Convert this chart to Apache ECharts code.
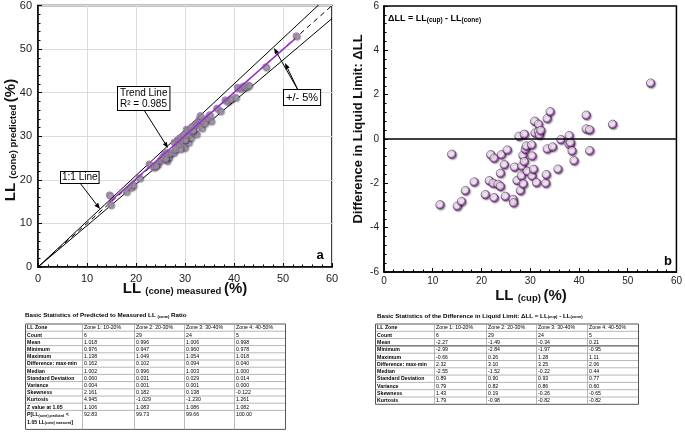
<!DOCTYPE html>
<html><head><meta charset="utf-8">
<script src="https://cdn.jsdelivr.net/npm/echarts@6/dist/echarts.min.js"></script>
<style>html,body{margin:0;padding:0;background:#fff}#c{width:685px;height:432px}</style>
</head><body><div id="c"></div><script>
// ---------- data ----------
const measuredLL = [14.6,14.8,18.0,19.0,19.4,20.7,22.7,23.6,24.4,25.0,25.4,25.8,26.1,26.3,26.5,26.7,27.0,27.7,27.8,28.4,28.7,28.9,29.4,29.6,29.7,29.9,30.1,30.3,30.5,30.7,31.0,31.2,31.4,31.8,32.1,32.3,32.6,32.9,33.1,33.4,33.8,34.5,35.0,35.3,36.5,37.2,38.2,38.7,39.3,40.3,40.7,41.3,41.9,42.5,43.0,46.5,52.7,24.0,26.0,28.0,30.0,31.6,34.0,29.0];
const predictedLL = [16.5,14.3,17.3,18.3,18.8,20.4,23.6,22.9,23.6,24.5,25.2,25.8,26.3,24.4,25.8,25.2,26.1,26.3,28.6,29.1,28.2,29.6,29.0,30.1,28.0,27.4,29.4,31.6,30.5,28.6,31.3,29.7,32.2,30.9,32.6,30.5,33.2,33.9,34.7,31.9,33.5,34.1,34.9,33.5,36.4,35.8,38.3,38.0,38.5,38.9,41.2,41.0,41.5,41.3,41.7,45.9,53.0,23.2,24.9,27.0,29.2,31.4,33.0,27.1];
const trendLine = [[14.5,14.8],[52.5,52.4]];
const oneToOneLine = [[0,0],[60,60]];
const plus5Line = [[0,0],[60,63]];
const minus5Line = [[0,0],[60,57]];

const cupLL = [11.5,13.9,15.05,15.9,16.7,18.5,20.8,21.6,21.9,22.4,22.6,22.6,23.4,23.9,23.9,24.1,24.7,24.9,25.3,26.8,26.5,26.6,27.3,27.7,28.0,28.2,28.3,28.5,28.6,28.8,28.8,29.0,29.2,29.4,30.3,30.4,30.4,30.7,30.9,31.0,31.3,31.7,31.7,31.9,32.2,33.2,33.3,33.5,33.5,34.1,34.6,35.7,36.3,38.0,38.0,38.3,38.6,39.0,41.5,41.5,42.2,42.2,46.9,54.7];
const deltaLL = [-2.97,-0.69,-3.03,-2.82,-2.33,-1.94,-2.51,-1.88,-0.71,-2.0,-0.87,-2.65,-2.05,-2.14,-1.55,-0.71,-1.16,-2.59,-0.5,-1.27,-2.73,-2.88,-1.87,0.12,-2.33,-1.67,-1.22,-0.74,-2.03,0.21,-1.02,-0.47,-0.32,-1.46,-0.27,-0.77,-1.67,-1.37,0.80,0.27,-1.97,0.66,0.33,0.18,0.38,-2.0,-1.61,-0.45,0.92,1.23,-0.36,-1.36,-0.03,0.15,-0.24,-0.17,-0.54,-0.98,1.07,0.45,0.41,-0.53,0.66,2.52];

const axisA = {min:0, max:60, interval:10};
const axisBX = {min:0, max:60, interval:10};
const axisBY = {min:-6, max:6, interval:2};

const statZones = ['Zone 1: 10-20%','Zone 2: 20-30%','Zone 3: 30-40%','Zone 4: 40-50%'];
const ratioRowLabels = ['Count','Mean','Minimum','Maximum','Difference: max-min','Median','Standard Deviation','Variance','Skewness','Kurtosis','Z value at 1.05','{b|P[LL}{s|(cone) predicted}{b| <}\n{b|1.05 LL}{s|(cone) measured}{b|]}'];
const ratioValues = [
 ['6','29','24','5'],
 ['1.018','0.996','1.006','0.998'],
 ['0.976','0.947','0.960','0.978'],
 ['1.138','1.049','1.054','1.018'],
 ['0.162','0.102','0.094','0.040'],
 ['1.002','0.996','1.003','1.000'],
 ['0.060','0.031','0.029','0.014'],
 ['0.004','0.001','0.001','0.000'],
 ['2.161','0.182','0.138','-0.122'],
 ['4.945','-1.029','-1.230','1.261'],
 ['1.106','1.083','1.086','1.082'],
 ['92.83','99.73','99.66','100.00']];
const diffRowLabels = ['Count','Mean','Minimum','Maximum','Difference: max-min','Median','Standard Deviation','Variance','Skewness','Kurtosis'];
const diffValues = [
 ['6','29','24','5'],
 ['-2.27','-1.49','-0.34','0.21'],
 ['-2.99','-2.84','-1.97','-0.95'],
 ['-0.66','0.26','1.28','1.11'],
 ['2.32','3.10','3.25','2.06'],
 ['-2.55','-1.52','-0.22','0.44'],
 ['0.89','0.90','0.93','0.77'],
 ['0.79','0.82','0.86','0.60'],
 ['1.43','0.19','-0.26','-0.65'],
 ['1.79','-0.98','-0.82','-0.82']];

// ---------- helpers ----------
const FF = 'Liberation Sans, Arial, Helvetica, sans-serif';
function arrow(x1,y1,x2,y2){
  const a = Math.atan2(y2-y1,x2-x1), L=6, W=2.3;
  const bx = x2-L*Math.cos(a), by = y2-L*Math.sin(a);
  const px = -Math.sin(a)*W, py = Math.cos(a)*W;
  return [
    {type:'line', z:50, shape:{x1:x1,y1:y1,x2:bx,y2:by}, style:{stroke:'#000',lineWidth:1}},
    {type:'polygon', z:50, shape:{points:[[x2,y2],[bx+px,by+py],[bx-px,by-py]]}, style:{fill:'#000'}}
  ];
}
function label(x,y,text,fs,opt){
  return Object.assign({type:'text', z:60, x:x, y:y, style:Object.assign({text:text, fontSize:fs, fontFamily:FF, fill:'#000', backgroundColor:'#fff', borderColor:'#000', borderWidth:1, align:'left', verticalAlign:'top'}, opt||{})});
}
function buildTable(x0, y0, cols, rowH, lastH, header, labels, values, thickAfter){
  const els = [];
  const rows = [[header[0]].concat(header.slice(1))];
  labels.forEach((l,i)=>rows.push([l].concat(values[i])));
  const tops = []; let y = y0;
  rows.forEach((r,i)=>{ const h = (i===rows.length-1 && lastH) ? lastH : rowH; tops.push([y,h]); y += h; });
  const yEnd = y;
  const x1 = cols[0], x2 = cols[cols.length-1];
  tops.forEach(([ty],i)=>{
    const thick = (thickAfter!==undefined && i===thickAfter+1);
    els.push({type:'line', shape:{x1:x1,y1:ty,x2:x2,y2:ty}, style:{stroke: i===0?'#555':(thick?'#333':'#999'), lineWidth: i===0||thick?1:0.7}});
  });
  els.push({type:'line', shape:{x1:x1,y1:yEnd,x2:x2,y2:yEnd}, style:{stroke:'#555',lineWidth:1}});
  cols.forEach((cx,j)=>{
    els.push({type:'line', shape:{x1:cx,y1:y0,x2:cx,y2:yEnd}, style:{stroke:(j===0||j===cols.length-1)?'#555':'#999', lineWidth:(j===0||j===cols.length-1)?1:0.7}});
  });
  rows.forEach((r,i)=>{
    const [ty,h] = tops[i];
    r.forEach((cell,j)=>{
      const isRich = cell.indexOf('{b|')===0;
      const st = {text:cell, fontSize:5.2, fontFamily:FF, fill:'#000', fontWeight:(j===0)?'bold':'normal', align:'left', verticalAlign: 'middle'};
      let yy = ty + Math.min(h,rowH)/2 + 0.3;
      if (isRich){
        st.verticalAlign='top'; yy = ty + 0.6;
        st.rich = {b:{fontSize:5.2, fontWeight:'bold', fontFamily:FF, lineHeight:7.6}, s:{fontSize:3.3, fontWeight:'bold', fontFamily:FF, lineHeight:7.6, padding:[2,0,0,0]}};
      }
      els.push({type:'text', x:cols[j]+1.6, y:yy, style:st});
    });
  });
  return els;
}

// ---------- chart ----------
const chart = echarts.init(document.getElementById('c'), null, {renderer:'canvas'});
const axisCommon = {
  type:'value',
  axisLine:{show:true, onZero:false, lineStyle:{color:'#000', width:1.5}},
  axisTick:{show:true, inside:true, length:4, lineStyle:{color:'#000', width:1}},
  minorTick:{show:true, splitNumber:5, length:2.5, lineStyle:{color:'#000', width:1}},
};
const richTitle = (big, small) => ({
  b:{fontSize:big, fontWeight:'bold', fontFamily:FF, fill:'#111'},
  s:{fontSize:small, fontWeight:'bold', fontFamily:FF, fill:'#111', padding:[5,0,0,0]}
});

const graphics = [];
// axis titles
graphics.push({type:'text', z:60, x:185, y:289, style:{text:'{b|LL }{s|(cone) measured }{b|(%)}', rich:richTitle(15,9.5), align:'center', verticalAlign:'middle'}});
graphics.push({type:'text', z:60, x:11, y:140, rotation:Math.PI/2, style:{text:'{b|LL }{s|(cone) predicted }{b|(%)}', rich:richTitle(15,9.5), align:'center', verticalAlign:'middle'}});
graphics.push({type:'text', z:60, x:531, y:296, style:{text:'{b|LL }{s|(cup) }{b|(%)}', rich:richTitle(15,9.5), align:'center', verticalAlign:'middle'}});
graphics.push({type:'text', z:60, x:358, y:129, rotation:Math.PI/2, style:{text:'Difference in Liquid Limit: ΔLL', fontSize:13, fontWeight:'bold', fontFamily:FF, fill:'#111', align:'center', verticalAlign:'middle'}});
graphics.push({type:'text', z:60, x:388, y:19, style:{text:'{b|ΔLL = LL}{s|(cup)}{b| - LL}{s|(cone)}', rich:{b:{fontSize:9, fontWeight:'bold', fontFamily:FF}, s:{fontSize:6.5, fontWeight:'bold', fontFamily:FF, padding:[3,0,0,0]}}, align:'left', verticalAlign:'middle'}});
graphics.push({type:'text', z:60, x:320, y:255, style:{text:'a', fontSize:13, fontWeight:'bold', fontFamily:FF, fill:'#000', align:'center', verticalAlign:'middle'}});
graphics.push({type:'text', z:60, x:668, y:261, style:{text:'b', fontSize:13, fontWeight:'bold', fontFamily:FF, fill:'#000', align:'center', verticalAlign:'middle'}});
// annotation boxes and arrows
graphics.push(label(118,87,'Trend Line\nR² = 0.985',10,{padding:[1,2,0,2], lineHeight:11}));
graphics.push(label(61,172,'1:1 Line',10,{padding:[0,1,0,1], lineHeight:11}));
graphics.push(label(284,90,'+/- 5%',11,{padding:[2,2,1,2], lineHeight:12}));
arrow(144,110,168,148).forEach(e=>graphics.push(e));
arrow(80,183,100,209).forEach(e=>graphics.push(e));
arrow(298,90,274,48).forEach(e=>graphics.push(e));
arrow(298,90,285,63).forEach(e=>graphics.push(e));
// table titles
graphics.push({type:'text', z:60, x:25, y:315.5, style:{text:'{b|Basic Statistics of Predicted to Measured LL }{s|(cone)}{b| Ratio}', rich:{b:{fontSize:6.2, fontWeight:'bold', fontFamily:FF}, s:{fontSize:4, fontWeight:'bold', fontFamily:FF, padding:[2,0,0,0]}}, align:'left', verticalAlign:'middle'}});
graphics.push({type:'text', z:60, x:377, y:316, style:{text:'{b|Basic Statistics of the Difference in Liquid Limit: ΔLL = LL}{s|(cup)}{b| - LL}{s|(cone)}', rich:{b:{fontSize:6.2, fontWeight:'bold', fontFamily:FF}, s:{fontSize:4, fontWeight:'bold', fontFamily:FF, padding:[2,0,0,0]}}, align:'left', verticalAlign:'middle'}});
buildTable(25.5,324,[25.5,82.5,134.5,184.5,234.5,285.5],7.2,19,['LL Zone'].concat(statZones),ratioRowLabels,ratioValues).forEach(e=>graphics.push(e));
buildTable(375.5,324,[375.5,434.5,486.5,536.5,587.5,638.5],7.3,0,['LL Zone'].concat(statZones),diffRowLabels,diffValues,2).forEach(e=>graphics.push(e));

const option = {
  animation:false,
  backgroundColor:'#fff',
  textStyle:{fontFamily:FF},
  grid:[
    {left:38, top:4, width:294, height:263, show:true, borderColor:'#000', borderWidth:1.5, backgroundColor:'transparent'},
    {left:384, top:6, width:295, height:266, show:true, borderColor:'#000', borderWidth:1.5, backgroundColor:'transparent'}
  ],
  xAxis:[
    Object.assign({}, axisCommon, {gridIndex:0, min:axisA.min, max:axisA.max, interval:axisA.interval,
      splitLine:{show:true, lineStyle:{color:'#dcdcdc', width:1}},
      axisLabel:{fontSize:11, color:'#222', margin:6, fontFamily:FF}}),
    Object.assign({}, axisCommon, {gridIndex:1, min:axisBX.min, max:axisBX.max, interval:axisBX.interval,
      splitLine:{show:false},
      axisLabel:{fontSize:10, color:'#222', margin:4, fontFamily:FF}})
  ],
  yAxis:[
    Object.assign({}, axisCommon, {gridIndex:0, min:axisA.min, max:axisA.max, interval:axisA.interval,
      splitLine:{show:true, lineStyle:{color:'#dcdcdc', width:1}},
      axisLabel:{fontSize:11, color:'#222', margin:6, fontFamily:FF}}),
    Object.assign({}, axisCommon, {gridIndex:1, min:axisBY.min, max:axisBY.max, interval:axisBY.interval,
      splitLine:{show:false},
      axisLabel:{fontSize:10, color:'#222', margin:5, fontFamily:FF}})
  ],
  series:[
    {type:'line', xAxisIndex:0, yAxisIndex:0, data:plus5Line, symbol:'none', clip:true, lineStyle:{color:'#000', width:1}, z:2, silent:true},
    {type:'line', xAxisIndex:0, yAxisIndex:0, data:minus5Line, symbol:'none', clip:true, lineStyle:{color:'#000', width:1}, z:2, silent:true},
    {type:'line', xAxisIndex:0, yAxisIndex:0, data:oneToOneLine, symbol:'none', clip:true, lineStyle:{color:'#000', width:1, type:[5,4]}, z:2, silent:true},
    {type:'scatter', xAxisIndex:0, yAxisIndex:0, data:measuredLL.map((x,i)=>[x,predictedLL[i]]), symbolSize:6.5, z:3,
      itemStyle:{color:'#9ea79a', borderColor:'#a76fc9', borderWidth:1, shadowColor:'rgba(0,0,0,0.45)', shadowBlur:1.5, shadowOffsetX:1, shadowOffsetY:1}},
    {type:'line', xAxisIndex:0, yAxisIndex:0, data:trendLine, symbol:'none', lineStyle:{color:'#9a2fc8', width:1.5}, z:4, silent:true},
    {type:'scatter', xAxisIndex:1, yAxisIndex:1, data:cupLL.map((x,i)=>[x,deltaLL[i]]), symbolSize:8.5, z:3,
      itemStyle:{color:new echarts.graphic.RadialGradient(0.42,0.4,0.62,[{offset:0,color:'#ffffff'},{offset:0.5,color:'#fbf3fc'},{offset:0.72,color:'#b35cc4'},{offset:1,color:'#6a1a7e'}]),
        borderColor:'#4a1058', borderWidth:0.6, shadowColor:'rgba(0,0,0,0.5)', shadowBlur:1.5, shadowOffsetX:1, shadowOffsetY:1},
      markLine:{silent:true, symbol:'none', label:{show:false}, lineStyle:{color:'#000', width:1.5, type:'solid'}, data:[{yAxis:0}]}}
  ],
  graphic:graphics
};
chart.setOption(option);
</script></body></html>
